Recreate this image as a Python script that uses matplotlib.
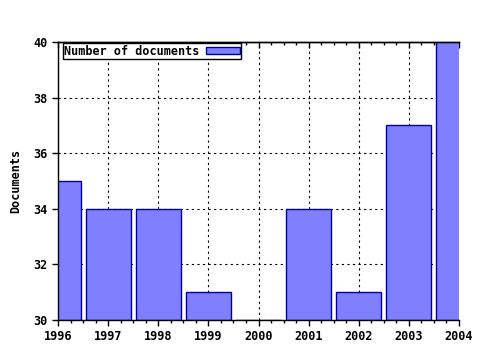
import numpy as np
import matplotlib
matplotlib.use("Agg")
import matplotlib.pyplot as plt
from matplotlib.ticker import MultipleLocator

years = [1996, 1997, 1998, 1999, 2000, 2001, 2002, 2003, 2004]
docs = [35, 34, 34, 31, 30, 34, 31, 37, 40]
yticks = [30, 32, 34, 36, 38, 40]

plt.rcParams['font.family'] = ['DejaVu Sans Mono']
plt.rcParams['font.weight'] = 'bold'
plt.rcParams['font.size'] = 8.5

fig = plt.figure(figsize=(4.8, 3.5), dpi=100)
ax = fig.add_axes([58/480, 1-320/350, (459-58)/480, (320-42)/350])

ax.bar(years, [d - 30 for d in docs], bottom=30, width=0.9,
       color="#8080ff", edgecolor="#0000a0", linewidth=1, label="Number of documents", zorder=2)

ax.set_xlim(1996, 2004)
ax.set_ylim(30, 40)
ax.set_xticks(years)
ax.set_yticks(yticks)
ax.xaxis.set_minor_locator(MultipleLocator(0.25))
ax.grid(True, which="major", color="black", linestyle=(0, (2, 3)), linewidth=0.8, zorder=1)
ax.set_axisbelow(True)

ax.tick_params(axis="x", which="major", direction="out", length=4, width=1)
ax.tick_params(axis="x", which="minor", direction="out", length=2, width=1)
ax.tick_params(axis="y", which="major", direction="out", length=4, width=1)
for s in ax.spines.values():
    s.set_linewidth(1)
ax.spines["right"].set_visible(False)

# inward ticks along the top edge
top = ax.secondary_xaxis("top")
top.set_xticks(years)
top.xaxis.set_minor_locator(MultipleLocator(0.25))
top.tick_params(which="major", direction="in", length=4, width=1, labeltop=False)
top.tick_params(which="minor", direction="in", length=2, width=1)
top.spines["top"].set_linewidth(1)

ax.set_ylabel("Documents", fontweight="bold", fontsize=8.5, labelpad=8)

leg = ax.legend(loc="upper left", bbox_to_anchor=(0.012, 0.995), frameon=True, fancybox=False,
                framealpha=1, edgecolor="black", borderpad=0.1, handlelength=2.8,
                handleheight=0.6, handletextpad=0.6, markerfirst=False, borderaxespad=0)
leg.get_frame().set_linewidth(1)

fig.savefig("out.png", dpi=100)
